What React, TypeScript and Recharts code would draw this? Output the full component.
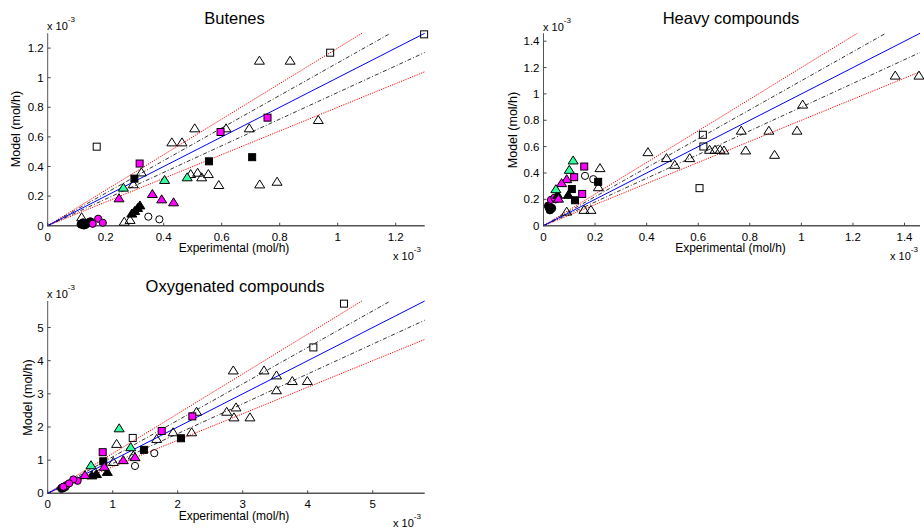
import React from "react";
import { ScatterChart, Scatter, XAxis, YAxis } from "recharts";

// Parity plots: model vs experimental molar flow, all values in 1e-3 mol/h.

type Pt = [number, number];

// ---- Butenes ----
const butOpenTri: Pt[] = [
  [0.117, 0.057], [0.264, 0.027], [0.284, 0.039], [0.295, 0.28], [0.323, 0.36],
  [0.428, 0.563], [0.463, 0.563], [0.507, 0.658], [0.493, 0.349], [0.517, 0.358],
  [0.531, 0.327], [0.554, 0.349], [0.59, 0.275], [0.615, 0.658], [0.695, 0.658],
  [0.73, 1.115], [0.836, 1.115], [0.731, 0.279], [0.791, 0.297], [0.933, 0.714],
];
const butOpenSq: Pt[] = [[0.169, 0.534], [0.974, 1.169], [1.298, 1.293]];
const butOpenCirc: Pt[] = [[0.347, 0.061], [0.385, 0.043]];
const butBlackSq: Pt[] = [[0.299, 0.318], [0.556, 0.435], [0.705, 0.463]];
const butBlackTri: Pt[] = [[0.29, 0.082], [0.3, 0.1], [0.31, 0.12], [0.318, 0.137]];
const butBlackCirc: Pt[] = [
  [0.115, 0.01], [0.122, 0.02], [0.13, 0.008], [0.138, 0.018], [0.147, 0.027], [0.125, 0.004],
];
const butMagSq: Pt[] = [[0.317, 0.42], [0.596, 0.633], [0.758, 0.73]];
const butMagTri: Pt[] = [[0.246, 0.185], [0.361, 0.214], [0.393, 0.178], [0.434, 0.158]];
const butMagCirc: Pt[] = [[0.155, 0.013], [0.174, 0.047], [0.19, 0.02]];
const butGreenTri: Pt[] = [[0.261, 0.257], [0.403, 0.309], [0.481, 0.327]];

// ---- Heavy compounds ----
const hvOpenTri: Pt[] = [
  [0.09, 0.107], [0.157, 0.12], [0.184, 0.12], [0.213, 0.292], [0.219, 0.437],
  [0.405, 0.558], [0.477, 0.513], [0.509, 0.462], [0.567, 0.513], [0.644, 0.576],
  [0.665, 0.576], [0.685, 0.576], [0.7, 0.571], [0.784, 0.571], [0.896, 0.538],
  [0.767, 0.721], [0.874, 0.721], [0.983, 0.721], [1.005, 0.919], [1.364, 1.139],
  [1.456, 1.139],
];
const hvOpenSq: Pt[] = [[0.605, 0.285], [0.618, 0.69], [0.62, 0.601]];
const hvOpenCirc: Pt[] = [[0.161, 0.378], [0.193, 0.353]];
const hvBlackSq: Pt[] = [[0.212, 0.333], [0.11, 0.278], [0.122, 0.193]];
const hvBlackTri: Pt[] = [[0.055, 0.234], [0.096, 0.234]];
const hvBlackCirc: Pt[] = [[0.019, 0.15], [0.025, 0.12], [0.032, 0.133], [0.022, 0.14]];
const hvMagSq: Pt[] = [[0.158, 0.449], [0.119, 0.368], [0.15, 0.241]];
const hvMagTri: Pt[] = [[0.09, 0.353], [0.07, 0.323], [0.058, 0.205]];
const hvMagCirc: Pt[] = [[0.029, 0.196], [0.047, 0.2], [0.042, 0.212]];
const hvGreenTri: Pt[] = [[0.115, 0.495], [0.1, 0.424], [0.048, 0.277]];

// ---- Oxygenated compounds ----
const oxOpenTri: Pt[] = [
  [1.01, 0.945], [1.06, 1.49], [1.317, 1.14], [1.677, 1.64], [1.93, 1.84],
  [2.215, 1.84], [2.29, 2.46], [2.754, 2.46], [2.897, 2.59], [2.866, 2.29],
  [3.112, 2.29], [2.855, 3.706], [3.328, 3.706], [3.52, 3.556], [3.52, 3.108],
  [3.763, 3.386], [3.994, 3.386],
];
const oxOpenSq: Pt[] = [[1.308, 1.67], [4.087, 4.4], [4.558, 5.72]];
const oxOpenCirc: Pt[] = [[1.343, 0.825], [1.64, 1.21]];
const oxBlackSq: Pt[] = [[0.855, 0.965], [1.48, 1.31], [2.05, 1.66]];
const oxBlackTri: Pt[] = [[0.68, 0.54], [0.75, 0.58], [0.917, 0.645]];
const oxBlackCirc: Pt[] = [[0.215, 0.149], [0.266, 0.197], [0.24, 0.17]];
const oxMagSq: Pt[] = [[0.846, 1.24], [1.754, 1.88], [2.225, 2.32]];
const oxMagTri: Pt[] = [[1.163, 1.0], [1.343, 1.09], [0.871, 0.8], [0.574, 0.55]];
const oxMagCirc: Pt[] = [[0.46, 0.377], [0.394, 0.418], [0.29, 0.248], [0.24, 0.197], [0.33, 0.3]];
const oxGreenTri: Pt[] = [[1.1, 1.96], [1.277, 1.39], [0.666, 0.846]];

const butTicks = [0, 0.2, 0.4, 0.6, 0.8, 1, 1.2];
const hvTicks = [0, 0.2, 0.4, 0.6, 0.8, 1, 1.2, 1.4];
const oxTicks = [0, 1, 2, 3, 4, 5];

// parity (1.0), +/-10% and +/-20% lines
const parityFactors = [1.2, 0.8, 1.1, 0.9, 1];

const FONT = "'Liberation Sans', Arial, Helvetica, sans-serif";
const MAGENTA = "#ff00ff";
const GREEN = "#33ffa0";

type Kind = "tri" | "sq" | "circ";
interface Series { pts: Pt[]; kind: Kind; fill: string }

function markerSet(
  openTri: Pt[], openSq: Pt[], openCirc: Pt[], blackSq: Pt[], blackTri: Pt[], blackCirc: Pt[],
  magSq: Pt[], magTri: Pt[], magCirc: Pt[], greenTri: Pt[],
): Series[] {
  return [
    { pts: blackCirc, kind: "circ", fill: "#000" },
    { pts: magCirc, kind: "circ", fill: MAGENTA },
    { pts: openCirc, kind: "circ", fill: "none" },
    { pts: openTri, kind: "tri", fill: "none" },
    { pts: openSq, kind: "sq", fill: "none" },
    { pts: blackTri, kind: "tri", fill: "#000" },
    { pts: blackSq, kind: "sq", fill: "#000" },
    { pts: magTri, kind: "tri", fill: MAGENTA },
    { pts: magSq, kind: "sq", fill: MAGENTA },
    { pts: greenTri, kind: "tri", fill: GREEN },
  ];
}

function makeMarker(kind: Kind, fill: string) {
  return (props: any) => {
    const { cx, cy } = props;
    if (cx == null || cy == null) return <g />;
    if (kind === "tri") {
      return (
        <polygon
          points={`${cx},${cy - 4.5} ${cx + 5},${cy + 3.5} ${cx - 5},${cy + 3.5}`}
          fill={fill}
          stroke="#000"
          strokeWidth={1}
        />
      );
    }
    if (kind === "sq") {
      return <rect x={cx - 3.5} y={cy - 3.5} width={7} height={7} fill={fill} stroke="#000" strokeWidth={1} />;
    }
    return <circle cx={cx} cy={cy} r={fill === "#000" ? 4 : 3.6} fill={fill} stroke="#000" strokeWidth={1} />;
  };
}

const noMarker = () => <g />;

function lineStyle(k: number) {
  if (k === 1) return { stroke: "#0000ff", strokeWidth: 1 };
  if (k === 1.1 || k === 0.9) return { stroke: "#000", strokeWidth: 0.8, strokeDasharray: "4 2 1 2" };
  return { stroke: "#ff0000", strokeWidth: 1, strokeDasharray: "1.2 1.2" };
}

function parityLine(k: number, xMax: number, yMax: number) {
  const ex = Math.min(xMax, yMax / k);
  return [{ x: 0, y: 0 }, { x: ex, y: k * ex }];
}

const XTick = (props: any) => {
  const { x, y, payload } = props;
  return (
    <g>
      <line x1={x} x2={x} y1={y} y2={y - 3} stroke="#444" />
      <text x={x} y={y + 15} textAnchor="middle" fontSize={11.5} fill="#000" fontFamily={FONT}>
        {String(payload.value)}
      </text>
    </g>
  );
};

const YTick = (props: any) => {
  const { x, y, payload } = props;
  return (
    <g>
      <line x1={x} x2={x + 3} y1={y} y2={y} stroke="#444" />
      <text x={x - 4} y={y + 4} textAnchor="end" fontSize={11.5} fill="#000" fontFamily={FONT}>
        {String(payload.value)}
      </text>
    </g>
  );
};

interface PanelProps {
  left: number; top: number; width: number; height: number;
  yAxisWidth: number; plotTop: number; xAxisHeight: number; marginRight: number;
  xMax: number; yMax: number; xTicks: number[]; yTicks: number[]; series: Series[];
}

function Panel(p: PanelProps) {
  return (
    <div style={{ position: "absolute", left: p.left, top: p.top }}>
      <ScatterChart
        width={p.width}
        height={p.height}
        margin={{ top: p.plotTop, right: p.marginRight, bottom: 0, left: 0 }}
      >
        <XAxis
          type="number"
          dataKey="x"
          domain={[0, p.xMax]}
          ticks={p.xTicks}
          interval={0}
          height={p.xAxisHeight}
          tickSize={0}
          tickMargin={0}
          tickLine={false}
          tick={XTick}
          axisLine={{ stroke: "#555", strokeWidth: 1.5 }}
        />
        <YAxis
          type="number"
          dataKey="y"
          domain={[0, p.yMax]}
          ticks={p.yTicks}
          interval={0}
          width={p.yAxisWidth}
          tickSize={0}
          tickMargin={0}
          tickLine={false}
          tick={YTick}
          axisLine={{ stroke: "#555", strokeWidth: 1 }}
        />
        {parityFactors.map((k) => (
          <Scatter
            key={`l${k}`}
            data={parityLine(k, p.xMax, p.yMax)}
            line={lineStyle(k)}
            shape={noMarker}
            isAnimationActive={false}
          />
        ))}
        {p.series.map((s, i) => (
          <Scatter
            key={`s${i}`}
            data={s.pts.map(([x, y]) => ({ x, y }))}
            shape={makeMarker(s.kind, s.fill)}
            isAnimationActive={false}
          />
        ))}
      </ScatterChart>
    </div>
  );
}

function Exp10({ x, y }: { x: number; y: number }) {
  return (
    <text x={x} y={y} fontSize={11} fontFamily={FONT} fill="#000">
      x 10
      <tspan dy={-8} fontSize={8}>-3</tspan>
    </text>
  );
}

function YLabel({ x, y }: { x: number; y: number }) {
  return (
    <text
      transform={`translate(${x},${y}) rotate(-90)`}
      textAnchor="middle"
      dominantBaseline="central"
      fontSize={12.5}
      fontFamily={FONT}
      fill="#000"
    >
      Model (mol/h)
    </text>
  );
}

function Caption({ x, y, size, text }: { x: number; y: number; size: number; text: string }) {
  return (
    <text x={x} y={y} textAnchor="middle" fontSize={size} fontFamily={FONT} fill="#000">
      {text}
    </text>
  );
}

export default function App() {
  return (
    <div style={{ position: "absolute", left: 0, top: 0, width: 924, height: 528, overflow: "hidden", background: "#fff" }}>
      <Panel
        left={0} top={0} width={440} height={270}
        yAxisWidth={47.7} plotTop={33.3} xAxisHeight={44.3} marginRight={15.3}
        xMax={1.3} yMax={1.3} xTicks={butTicks} yTicks={butTicks}
        series={markerSet(butOpenTri, butOpenSq, butOpenCirc, butBlackSq, butBlackTri, butBlackCirc,
          butMagSq, butMagTri, butMagCirc, butGreenTri)}
      />
      <Panel
        left={495} top={0} width={429} height={270}
        yAxisWidth={48.5} plotTop={33.3} xAxisHeight={44.3} marginRight={4}
        xMax={1.46} yMax={1.46} xTicks={hvTicks} yTicks={hvTicks}
        series={markerSet(hvOpenTri, hvOpenSq, hvOpenCirc, hvBlackSq, hvBlackTri, hvBlackCirc,
          hvMagSq, hvMagTri, hvMagCirc, hvGreenTri)}
      />
      <Panel
        left={0} top={268} width={440} height={260}
        yAxisWidth={47.7} plotTop={33} xAxisHeight={34.7} marginRight={15.3}
        xMax={5.8} yMax={5.8} xTicks={oxTicks} yTicks={oxTicks}
        series={markerSet(oxOpenTri, oxOpenSq, oxOpenCirc, oxBlackSq, oxBlackTri, oxBlackCirc,
          oxMagSq, oxMagTri, oxMagCirc, oxGreenTri)}
      />
      <svg width={924} height={528} style={{ position: "absolute", left: 0, top: 0, pointerEvents: "none" }}>
        <Caption x={234.5} y={24} size={16.5} text="Butenes" />
        <Caption x={731} y={24} size={16.5} text="Heavy compounds" />
        <Caption x={235} y={292} size={16.5} text="Oxygenated compounds" />
        <Caption x={234} y={252} size={12} text="Experimental (mol/h)" />
        <Caption x={730.5} y={252} size={12} text="Experimental (mol/h)" />
        <Caption x={234} y={520} size={12} text="Experimental (mol/h)" />
        <YLabel x={16} y={129} />
        <YLabel x={512.5} y={130} />
        <YLabel x={27.5} y={397.5} />
        <Exp10 x={47} y={30} />
        <Exp10 x={543} y={31} />
        <Exp10 x={47} y={298} />
        <Exp10 x={393} y={260} />
        <Exp10 x={890} y={260} />
        <Exp10 x={393} y={527} />
      </svg>
    </div>
  );
}
